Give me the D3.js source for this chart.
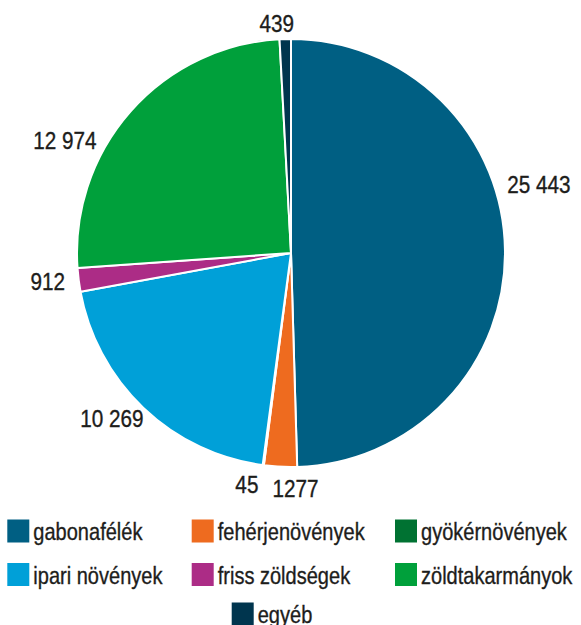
<!DOCTYPE html>
<html>
<head>
<meta charset="utf-8">
<script src="https://cdn.jsdelivr.net/npm/d3@7"></script>
<style>
  body { margin: 0; background: #fff; }
  text { font-family: "Liberation Sans", Arial, sans-serif; fill: #1d1d1b; stroke: #1d1d1b; stroke-width: 0.35px; }
</style>
</head>
<body>
<div id="chart-area"></div>
<script>
// Data (clockwise from 12 o'clock)
const categories = ["gabonafélék", "fehérjenövények", "gyökérnövények", "ipari növények", "friss zöldségek", "zöldtakarmányok", "egyéb"];
const values = [25443, 1277, 45, 10269, 912, 12974, 439];
const colors = ["#005f83", "#ee6b1f", "#007232", "#00a0d8", "#ac2c86", "#00a03b", "#00354e"];

// Set up chart dimensions
const width = 581;
const height = 625;
const cx = 291;
const cy = 253;
const radius = 214;
const labelGap = 4;
const padX = 10, padY = 3;

// Text is squeezed horizontally to imitate the condensed face of the original
const labelSize = 23, labelSqueeze = 0.9;
const legendSize = 24, legendSqueeze = 0.835;

// angle (degrees) and radius nudges so labels sit where the original placed them
const labelNudge = {
    "gabonafélék": [-16.5, 0],
    "zöldtakarmányok": [-12, 0],
    "fehérjenövények": [-3.8, 6],
    "gyökérnövények": [2.9, 6],
    "egyéb": [-1.8, 0]
};

// Hungarian style: thousands separated by a space only from five digits
const fmt = v => v >= 10000 ? d3.format(",")(v).replace(/,/g, " ") : String(v);

const svg = d3.select("#chart-area")
    .append("svg")
    .attr("width", width)
    .attr("height", height);

const color = d3.scaleOrdinal().domain(categories).range(colors);

const rows = categories.map((c, i) => ({ name: c, value: values[i] }));

const pie = d3.pie()
    .sort(null)
    .value(d => d.value)
    .startAngle(0)
    .endAngle(2 * Math.PI);

const arc = d3.arc().innerRadius(0).outerRadius(radius);

const g = svg.append("g").attr("transform", `translate(${cx},${cy})`);

const arcs = pie(rows);

g.selectAll(".slice")
    .data(arcs)
    .enter()
    .append("path")
    .attr("class", "slice")
    .attr("d", arc)
    .attr("fill", d => color(d.data.name))
    .attr("stroke", "#fff")
    .attr("stroke-width", 2)
    .attr("stroke-linejoin", "round");

// Value labels placed just outside the rim
const labels = g.selectAll(".value-label")
    .data(arcs)
    .enter()
    .append("text")
    .attr("class", "value-label")
    .style("font-size", labelSize + "px")
    .attr("text-anchor", "middle")
    .attr("dy", "0.36em")
    .text(d => fmt(d.data.value));

labels.each(function(d) {
    const w = this.getComputedTextLength() * labelSqueeze;
    const h = labelSize * 0.72;
    const nudge = labelNudge[d.data.name] || [0, 0];
    const a = (d.startAngle + d.endAngle) / 2 + nudge[0] * Math.PI / 180;
    const s = Math.sin(a), c = -Math.cos(a);
    const r = radius + labelGap + nudge[1];
    const x = s * (r + w / 2 + padX);
    const y = c * (r + h / 2 + padY);
    d3.select(this).attr("transform", `translate(${x},${y}) scale(${labelSqueeze},1)`);
});

// Legend: three columns, last item centred below
const colX = [7.3, 191.7, 395];
const rowY = [519.5, 563, 602.5];
const lastX = 231.7;
const sw = 22, sh = 23;

const legendItems = categories.map((name, i) => {
    if (i < 6) return { name, x: colX[i % 3], y: rowY[Math.floor(i / 3)] };
    return { name, x: lastX, y: rowY[2] };
});

const legend = svg.selectAll(".legend")
    .data(legendItems)
    .enter()
    .append("g")
    .attr("class", "legend")
    .attr("transform", d => `translate(${d.x},${d.y})`);

legend.append("rect")
    .attr("width", sw)
    .attr("height", sh)
    .attr("fill", d => color(d.name));

legend.append("text")
    .attr("transform", `translate(${sw + 4},20.5) scale(${legendSqueeze},1)`)
    .style("font-size", legendSize + "px")
    .text(d => d.name);
</script>
</body>
</html>
